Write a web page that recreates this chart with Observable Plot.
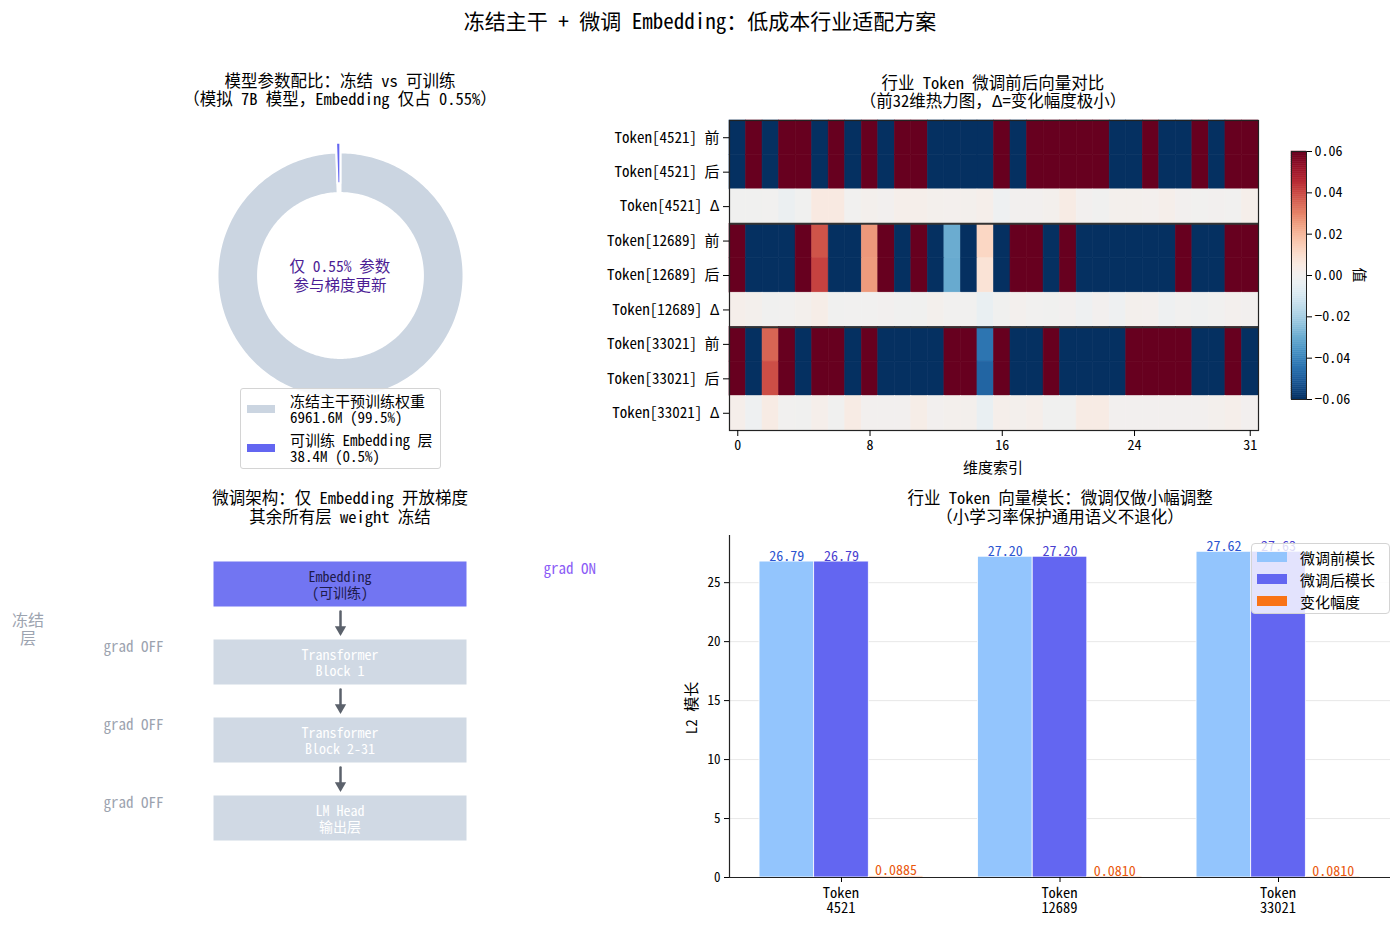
<!DOCTYPE html>
<html>
<head>
<meta charset="utf-8">
<script src="https://cdn.jsdelivr.net/npm/d3@7"></script>
<script src="https://cdn.jsdelivr.net/npm/@observablehq/plot@0.6"></script>
<style>
  body { margin: 0; background: #fff; }
  #root { position: relative; width: 1400px; height: 925px; overflow: hidden; background: #fff;
    font-family: "Noto Sans Mono CJK SC", "Noto Sans CJK SC", "Noto Sans CJK JP", sans-serif; color: #000; }
  #root svg { display: block; }
</style>
</head>
<body>
<div id="root"></div>
<script>
const FONT = '"Noto Sans Mono CJK SC", "Noto Sans CJK SC", "Noto Sans CJK JP", sans-serif';

// ---------------- DATA ----------------
// Panel A: parameter split (millions)
const paramLabels = ["冻结主干预训练权重", "可训练 Embedding 层"];
const paramValues = [6961.6, 38.4];
const paramColors = ["#cbd5e1", "#6366f1"];

// Panel B: heatmap (first 32 dims)
const tokens = ["4521", "12689", "33021"];
const before4521 = [-0.092, 0.105, -0.118, 0.087, 0.121, -0.099, 0.094, -0.083, 0.112, -0.107, 0.089, 0.131, -0.095, -0.124, -0.088, -0.101, 0.097, -0.115, 0.084, 0.109, 0.126, 0.092, 0.103, -0.086, -0.119, 0.098, -0.091, -0.128, 0.106, -0.094, 0.117, 0.088];
const after4521  = [-0.093, 0.104, -0.1185, 0.084, 0.120, -0.094, 0.099, -0.0835, 0.113, -0.107, 0.091, 0.133, -0.094, -0.1235, -0.087, -0.099, 0.095, -0.115, 0.084, 0.110, 0.130, 0.092, 0.102, -0.085, -0.118, 0.0985, -0.089, -0.128, 0.1055, -0.094, 0.1165, 0.090];
const delta4521  = [-0.001, -0.001, -0.0005, -0.003, -0.001, 0.005, 0.005, -0.0005, 0.001, 0, 0.002, 0.002, 0.001, 0.0005, 0.001, 0.002, -0.002, 0, 0, 0.001, 0.004, 0, -0.001, 0.001, 0.001, 0.0005, 0.002, 0, -0.0005, 0, -0.0005, 0.002];
const before12689 = [0.097, -0.112, -0.089, -0.126, 0.083, 0.038, -0.104, -0.093, 0.026, 0.118, -0.085, 0.091, -0.109, -0.030, -0.097, 0.012, -0.121, 0.087, 0.102, -0.094, 0.114, -0.088, -0.131, -0.099, -0.083, -0.107, -0.092, 0.096, -0.117, -0.086, 0.108, 0.093];
const after12689  = [0.099, -0.111, -0.090, -0.1265, 0.084, 0.041, -0.105, -0.0935, 0.0255, 0.118, -0.086, 0.090, -0.108, -0.0305, -0.0975, 0.008, -0.122, 0.0875, 0.1015, -0.095, 0.114, -0.090, -0.131, -0.101, -0.082, -0.1065, -0.094, 0.0955, -0.1185, -0.0865, 0.1085, 0.093];
const delta12689  = [0.002, 0.001, -0.001, -0.0005, 0.001, 0.003, -0.001, -0.0005, -0.0005, 0, -0.001, -0.001, 0.001, -0.0005, -0.0005, -0.004, -0.001, 0.0005, -0.0005, -0.001, 0, -0.002, 0, -0.002, 0.001, 0.0005, -0.002, -0.0005, -0.0015, -0.0005, 0.0005, 0];
const before33021 = [0.103, -0.091, 0.035, 0.116, -0.098, 0.087, 0.122, -0.106, 0.095, -0.084, -0.119, -0.101, -0.093, 0.108, 0.089, -0.044, 0.113, -0.097, -0.125, 0.091, -0.088, -0.110, -0.096, -0.123, 0.099, 0.085, 0.117, 0.094, -0.102, -0.089, 0.111, -0.095];
const after33021  = [0.105, -0.093, 0.039, 0.1155, -0.099, 0.089, 0.121, -0.102, 0.095, -0.084, -0.119, -0.098, -0.093, 0.109, 0.090, -0.048, 0.115, -0.096, -0.123, 0.090, -0.089, -0.106, -0.092, -0.123, 0.099, 0.085, 0.117, 0.094, -0.102, -0.088, 0.113, -0.095];
const delta33021  = [0.002, -0.002, 0.004, -0.0005, -0.001, 0.002, -0.001, 0.004, 0, 0, 0, 0.003, 0, 0.001, 0.001, -0.004, 0.002, 0.001, 0.002, -0.001, -0.001, 0.004, 0.004, 0, 0, 0, 0, 0, 0, 0.001, 0.002, 0];
const rowKinds = ["前", "后", "Δ"];
const xTickDims = [0, 8, 16, 24, 31];
const cbTicks = [-0.06, -0.04, -0.02, 0, 0.02, 0.04, 0.06];

// Panel C: architecture layers
const layerNames = ["Embedding\n(可训练)", "Transformer\nBlock 1", "Transformer\nBlock 2-31", "LM Head\n输出层"];
const layerTrainable = [true, false, false, false];

// Panel D: L2 norms
const barTokens = ["4521", "12689", "33021"];
const normBefore = [26.79, 27.20, 27.62];
const normAfter  = [26.79, 27.20, 27.63];
const normDelta  = [0.0885, 0.0810, 0.0810];
const seriesNames = ["微调前模长", "微调后模长", "变化幅度"];
const seriesColors = ["#93c5fd", "#6366f1", "#f97316"];
const labelColors = ["#2b55d0", "#4a40d0", "#ea580c"];
const labelDecimals = [2, 2, 4];
const yTicksD = [0, 5, 10, 15, 20, 25];

// ---------------- HELPERS ----------------
const root = document.getElementById("root");
function place(node, left, top) {
  node.style.position = "absolute"; node.style.left = left + "px"; node.style.top = top + "px";
  root.appendChild(node); return node;
}
function txt(text, cx, cy, o = {}) {
  const d = document.createElement("div");
  d.textContent = text;
  const size = o.size || 15;
  const tx = o.anchor === "start" ? "0" : o.anchor === "end" ? "-100%" : "-50%";
  d.style.cssText = `position:absolute;left:${cx}px;top:${cy}px;white-space:pre;font-size:${size}px;` +
    `color:${o.color || "#000"};line-height:${o.lh || Math.round(size * 1.15)}px;text-align:${o.align || "center"};` +
    `transform:translate(${tx},-50%) rotate(${o.rotate || 0}deg);`;
  root.appendChild(d); return d;
}
const baseStyle = {fontFamily: FONT, fontSize: "15px", background: "transparent", overflow: "visible", color: "#000"};

// ---------------- TITLES ----------------
txt("冻结主干 + 微调 Embedding：低成本行业适配方案", 700, 20, {size: 21});
txt("模型参数配比：冻结 vs 可训练\n（模拟 7B 模型，Embedding 仅占 0.55%）", 340, 89, {size: 16.5, lh: 18});
txt("行业 Token 微调前后向量对比\n（前32维热力图，Δ=变化幅度极小）", 993, 91, {size: 16.5, lh: 18});
txt("微调架构：仅 Embedding 开放梯度\n其余所有层 weight 冻结", 340, 507, {size: 16.5, lh: 19});
txt("行业 Token 向量模长：微调仅做小幅调整\n（小学习率保护通用语义不退化）", 1060, 507, {size: 16.5, lh: 19});

// ---------------- PANEL A: DONUT ----------------
const total = d3.sum(paramValues);
const arcs = d3.pie().sort(null)(paramValues);
const R_OUT = 1, R_IN = 0.67, EXPLODE = [0, 0.08];
function slicePoints(p, k) {
  const mid = (p.startAngle + p.endAngle) / 2;
  const ox = EXPLODE[k] * Math.sin(mid), oy = EXPLODE[k] * Math.cos(mid);
  const n = Math.max(2, Math.ceil((p.endAngle - p.startAngle) / 0.02));
  const pts = [];
  for (let j = 0; j <= n; j++) { const a = p.startAngle + (p.endAngle - p.startAngle) * j / n; pts.push({x: ox + R_OUT * Math.sin(a), y: oy + R_OUT * Math.cos(a)}); }
  for (let j = n; j >= 0; j--) { const a = p.startAngle + (p.endAngle - p.startAngle) * j / n; pts.push({x: ox + R_IN * Math.sin(a), y: oy + R_IN * Math.cos(a)}); }
  return pts;
}
const share = (paramValues[1] / total * 100).toFixed(2);
const donut = Plot.plot({
  width: 280, height: 280, margin: 0,
  x: {domain: [-1.138, 1.138], axis: null}, y: {domain: [-1.138, 1.138], axis: null},
  style: baseStyle,
  marks: [
    ...arcs.map((p, k) => Plot.line(slicePoints(p, k), {x: "x", y: "y", curve: "linear-closed", fill: paramColors[k], stroke: "white", strokeWidth: 2}))
  ]
});
place(donut, 200, 135);
const xA = donut.scale("x"), yA = donut.scale("y");
txt(`仅 ${share}% 参数\n参与梯度更新`, 200 + xA.apply(0), 135 + yA.apply(0), {size: 15.5, lh: 19, color: "#4c1d95"});

// legend A
const legA = document.createElement("div");
legA.style.cssText = "width:199px;height:79px;border:1px solid #d4d4d4;border-radius:3px;background:rgba(255,255,255,0.85);";
place(legA, 240, 388);
paramLabels.forEach((lab, k) => {
  const y0 = 389 + k * 39;
  const patch = document.createElement("div");
  patch.style.cssText = `width:28px;height:8px;background:${paramColors[k]};`;
  place(patch, 247, y0 + 16);
  const pct = (paramValues[k] / total * 100).toFixed(1);
  txt(`${lab}\n${paramValues[k].toFixed(1)}M (${pct}%)`, 290, y0 + 20, {size: 15, lh: 16, anchor: "start", align: "left"});
});

// ---------------- PANEL B: HEATMAP ----------------
const rowLabels = tokens.flatMap(t => rowKinds.map(k => `Token[${t}] ${k}`));
const rowsData = [before4521, after4521, delta4521, before12689, after12689, delta12689, before33021, after33021, delta33021];
const DIMS = before4521.length;
const cells = rowsData.flatMap((arr, r) => arr.map((v, c) => ({r, c, v})));
const groupBounds = tokens.slice(1).map((_, i) => (i + 1) * rowKinds.length);
const colorScale = {type: "linear", domain: [-0.06, 0.06], interpolate: t => d3.interpolateRdBu(1 - t), clamp: true};

const heat = Plot.plot({
  width: 720, height: 380, marginLeft: 149, marginRight: 42, marginTop: 10, marginBottom: 60,
  x: {domain: [0, DIMS]}, y: {domain: [0, rowLabels.length], reverse: true},
  color: colorScale,
  style: baseStyle,
  marks: [
    Plot.rect(cells, {x1: "c", x2: d => d.c + 1, y1: "r", y2: d => d.r + 1, fill: "v", stroke: "v", strokeWidth: 0.6}),
    Plot.ruleY(groupBounds, {stroke: "#333", strokeWidth: 2}),
    Plot.frame({stroke: "#222", strokeWidth: 1.2}),
    Plot.axisY({ticks: rowLabels.map((_, i) => i + 0.5), tickFormat: d => rowLabels[Math.round(d - 0.5)], tickSize: 6, tickPadding: 4, label: null, fontSize: 15}),
    Plot.axisX({ticks: xTickDims.map(d => d + 0.5), tickFormat: d => String(d - 0.5), tickSize: 6, tickPadding: 4, label: null, fontSize: 14})
  ]
});
place(heat, 580, 110);
txt("维度索引", 993, 466, {size: 15});

// colorbar
const strips = d3.range(120).map(k => ({y1: -0.06 + k * 0.001, y2: -0.06 + (k + 1) * 0.001}));
const cbar = Plot.plot({
  width: 120, height: 270, marginLeft: 31, marginRight: 74, marginTop: 11, marginBottom: 11,
  x: {domain: [0, 1], axis: null}, y: {domain: [-0.06, 0.06]},
  color: colorScale,
  style: baseStyle,
  marks: [
    Plot.rect(strips, {x1: 0, x2: 1, y1: "y1", y2: "y2", fill: d => (d.y1 + d.y2) / 2, stroke: d => (d.y1 + d.y2) / 2, strokeWidth: 0.5}),
    Plot.frame({stroke: "#222"}),
    Plot.axisY({anchor: "right", ticks: cbTicks, tickFormat: d => d.toFixed(2).replace("-", "−"), tickSize: 5, tickPadding: 3, label: null, fontSize: 14})
  ]
});
place(cbar, 1260, 140);
txt("值", 1360, 275, {size: 15, rotate: 90});

// ---------------- PANEL C: ARCHITECTURE ----------------
const BOX_H = 0.59;
const layerData = layerNames.map((name, i) => ({i, name, trainable: layerTrainable[i]}));
const links = d3.pairs(layerData);
const FLOW_LEFT = 0, FLOW_TOP = 480;
const flow = Plot.plot({
  width: 620, height: 420, marginLeft: 213, marginRight: 153, marginTop: 65, marginBottom: 43,
  x: {domain: [0, 1], axis: null}, y: {domain: [-0.5, layerNames.length - 0.5], reverse: true, axis: null},
  style: baseStyle,
  marks: [
    Plot.rect(layerData, {filter: d => d.trainable, x1: 0, x2: 1, y1: d => d.i - BOX_H / 2, y2: d => d.i + BOX_H / 2, fill: "#6366f1", fillOpacity: 0.9, stroke: "#ffffff", strokeWidth: 1}),
    Plot.rect(layerData, {filter: d => !d.trainable, x1: 0, x2: 1, y1: d => d.i - BOX_H / 2, y2: d => d.i + BOX_H / 2, fill: "#cbd5e1", fillOpacity: 0.9, stroke: "#ffffff", strokeWidth: 1}),
    Plot.arrow(links, {x1: 0.5, x2: 0.5, y1: ([a]) => a.i + BOX_H / 2, y2: ([, b]) => b.i - BOX_H / 2, stroke: "#5b616b", strokeWidth: 2.5, insetStart: 4, insetEnd: 12, headLength: 0}),
    Plot.dot(links, {x: 0.5, y: ([, b]) => b.i - BOX_H / 2, dy: -10, symbol: "triangle", r: 4.2, rotate: 180, fill: "#5b616b", stroke: "none"}),
    Plot.text(layerData, {filter: d => d.trainable, x: 1, y: "i", text: () => "grad ON", dx: 76, dy: -15, textAnchor: "start", fill: "#8b5cf6", fontSize: 15}),
    Plot.text(layerData, {filter: d => !d.trainable, x: 0, y: "i", text: () => "grad OFF", dx: -50, dy: -15, textAnchor: "end", fill: "#9ca3af", fontSize: 15})
  ]
});
place(flow, FLOW_LEFT, FLOW_TOP);
const xC = flow.scale("x"), yC = flow.scale("y");
layerData.forEach(d => {
  txt(d.name, FLOW_LEFT + xC.apply(0.5), FLOW_TOP + yC.apply(d.i), {size: 14, lh: 16, color: d.trainable ? "#1e1b4b" : "#ffffff"});
});
txt("冻结\n层", 28, 628, {size: 16, color: "#9ca3af", lh: 18});

// ---------------- PANEL D: BARS ----------------
const BAR_W = 0.25;
const seriesValues = [normBefore, normAfter, normDelta];
const offsets = seriesNames.map((_, s) => (s - (seriesNames.length - 1) / 2) * BAR_W);
const bars = barTokens.flatMap((t, g) => seriesValues.map((vals, s) => ({g, s, v: vals[g], xc: g + offsets[s]})));
const lo = offsets[0] - BAR_W / 2, hi = barTokens.length - 1 + offsets[offsets.length - 1] + BAR_W / 2;
const pad = 0.05 * (hi - lo);
const xLo = lo - pad, xHi = hi + pad;

const BAR_LEFT = 640, BAR_TOP = 525;
const barChart = Plot.plot({
  width: 760, height: 400, marginLeft: 89, marginRight: 10, marginTop: 10, marginBottom: 48,
  x: {domain: [xLo, xHi]}, y: {domain: [0, 29]},
  style: baseStyle,
  marks: [
    Plot.gridY({ticks: yTicksD.slice(1), stroke: "#cccccc", strokeOpacity: 0.45}),
    ...seriesNames.map((_, s) => Plot.rect(bars.filter(d => d.s === s), {x1: d => d.xc - BAR_W / 2, x2: d => d.xc + BAR_W / 2, y1: 0, y2: "v", fill: seriesColors[s], stroke: "white", strokeWidth: 0.8})),
    ...seriesNames.map((_, s) => Plot.text(bars.filter(d => d.s === s), {x: "xc", y: "v", text: d => d.v.toFixed(labelDecimals[s]), lineAnchor: "bottom", dy: -1, fill: labelColors[s], fontSize: 14})),
    Plot.ruleY([0], {stroke: "#222", strokeWidth: 1.2}),
    Plot.ruleX([xLo], {stroke: "#222", strokeWidth: 1.2}),
    Plot.axisY({ticks: yTicksD, tickSize: 5, tickPadding: 4, label: null, fontSize: 13}),
    Plot.axisX({ticks: barTokens.map((_, i) => i), tickFormat: () => "", tickSize: 5, label: null})
  ]
});
place(barChart, BAR_LEFT, BAR_TOP);
// category labels (two lines) placed with the chart's own scales
const xScaleD = barChart.scale("x");
const yScaleD = barChart.scale("y");
barTokens.forEach((t, i) => {
  txt(`Token\n${t}`, BAR_LEFT + xScaleD.apply(i), BAR_TOP + yScaleD.apply(0) + 22, {size: 14.5, lh: 15});
});
txt("L2 模长", 690, 708, {size: 15, rotate: -90});

// legend D
const legD = document.createElement("div");
legD.style.cssText = "width:137px;height:69px;border:1px solid #d4d4d4;border-radius:4px;background:rgba(255,255,255,0.82);";
place(legD, 1251, 543);
seriesNames.forEach((name, s) => {
  const cy = 557 + s * 22;
  const patch = document.createElement("div");
  patch.style.cssText = `width:30px;height:10px;background:${seriesColors[s]};`;
  place(patch, 1257, cy - 5);
  txt(name, 1300, cy, {size: 15, anchor: "start", align: "left"});
});
</script>
</body>
</html>
